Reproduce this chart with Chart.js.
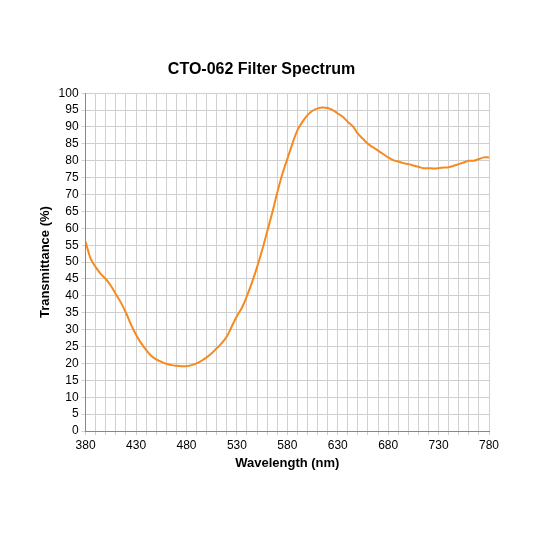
<!DOCTYPE html><html><head><script src="https://cdn.jsdelivr.net/npm/chart.js@4"></script>
<style>body{margin:0;background:#fff}#w{position:absolute;left:0;top:0;width:533px;height:533px}</style></head><body><div id="w"><canvas id="c"></canvas></div>
<script>
const wavelengths=[380,385,390,395,400,405,410,415,420,425,430,435,440,445,450,455,460,465,470,475,480,485,490,495,500,505,510,515,520,525,530,535,540,545,550,555,560,565,570,575,580,585,590,595,600,605,610,615,620,625,630,635,640,645,650,655,660,665,670,675,680,685,690,695,700,705,710,715,720,725,730,735,740,745,750,755,760,765,770,775,780];
const transmittance=[56,51,48.5,46.5,45,43,40.5,38,35,31.5,28.5,26,24,22.3,21.2,20.5,19.9,19.5,19.3,19.2,19.2,19.5,20,20.8,21.8,23,24.5,26,28,31,34,36.5,40,44,48.5,53.5,59,64.5,70.5,76,80.5,85,89,91.5,93.5,94.8,95.5,95.8,95.6,95,94,93,91.5,90.2,88,86.5,85,84,83,82,81,80.2,79.8,79.3,79,78.6,78.2,77.8,77.8,77.7,77.8,78,78.1,78.5,79,79.5,80,80,80.5,81,81];
new Chart(document.getElementById('c'),{type:'line',
data:{datasets:[{data:wavelengths.map((x,i)=>({x,y:transmittance[i]})),borderColor:'#f7891f',borderWidth:2,pointRadius:0,tension:0.4}]},
options:{responsive:true,maintainAspectRatio:false,animation:false,
layout:{padding:{left:34,right:44,top:60,bottom:58}},
plugins:{legend:{display:false},title:{display:true,text:'CTO-062 Filter Spectrum',color:'#000',font:{family:'Liberation Sans',size:16,weight:'bold'},padding:{top:0,bottom:14}}},
scales:{x:{type:'linear',min:380,max:780,ticks:{stepSize:10,autoSkip:false,maxRotation:0,color:'#000',font:{family:'Liberation Sans',size:12},callback:v=>((v-380)%50===0?v:'')},grid:{color:'#d0d0d0',tickLength:4},border:{color:'#888'},
title:{display:true,text:'Wavelength (nm)',color:'#000',font:{family:'Liberation Sans',size:13,weight:'bold'},padding:{top:0}}},
y:{min:0,max:100,ticks:{stepSize:5,autoSkip:false,color:'#000',font:{family:'Liberation Sans',size:12}},grid:{color:'#d0d0d0',tickLength:4},border:{color:'#888'},
title:{display:true,text:'Transmittance (%)',color:'#000',font:{family:'Liberation Sans',size:13,weight:'bold'},padding:{bottom:2}}}}}});
</script></body></html>
